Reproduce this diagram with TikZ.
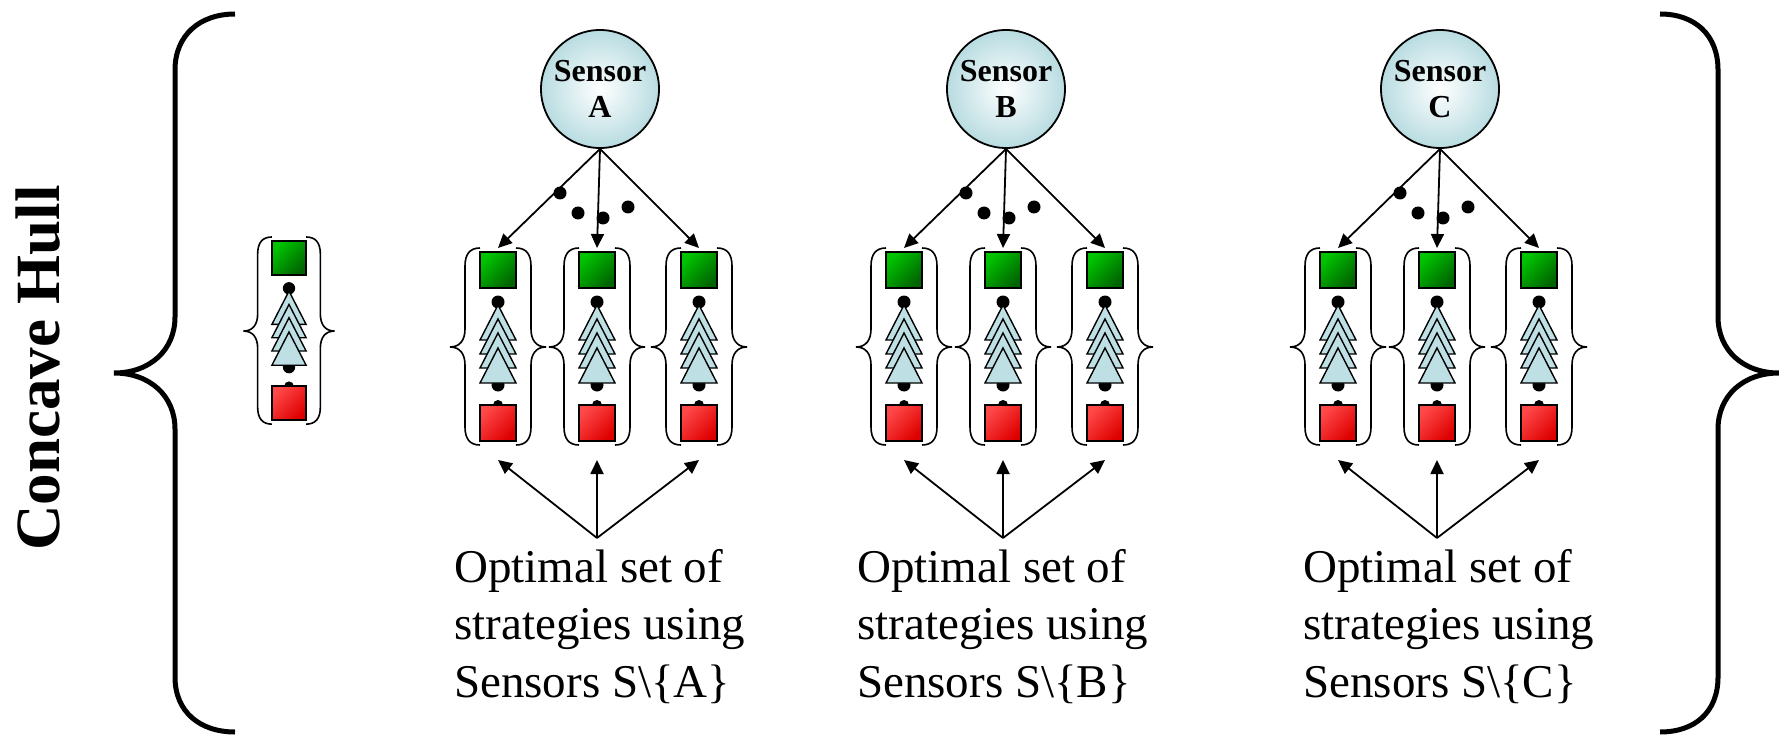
\documentclass[tikz,border=0pt]{standalone}
\usepackage{fontspec}
\setmainfont{Liberation Serif}
\usetikzlibrary{arrows.meta}
\definecolor{sblue}{RGB}{184,220,225}
\definecolor{tblue}{RGB}{190,224,228}
\definecolor{gl}{RGB}{0,196,0}
\definecolor{gd}{RGB}{0,100,0}
\definecolor{rl}{RGB}{255,72,72}
\definecolor{rd}{RGB}{222,0,0}
\tikzset{
  bigbrace/.style={line width=5pt, line cap=butt},
  colbrace/.style={line width=1.6pt},
  sq/.style={draw=black, line width=1.8pt, inner sep=0pt, outer sep=0pt},
  greensq/.style={sq, top color=gl, bottom color=gd, shading angle=45},
  redsq/.style={sq, top color=rl, bottom color=rd, shading angle=45},
  tri/.style={fill=tblue, draw=black, line width=1.4pt, line join=miter},
  bdot/.style={fill=black},
  sensor/.style={circle, draw=black, line width=1.8pt, minimum size=118pt, inner sep=0pt,
    inner color=white, outer color=sblue, align=center,
    font=\bfseries\fontsize{32}{36}\selectfont},
  conn/.style={line width=1.8pt, -{Triangle[length=14pt,width=13pt]}},
  lbl/.style={anchor=base west, align=left, inner sep=0pt, font=\fontsize{47}{57.5}\selectfont},
  hull/.style={rotate=90, anchor=base, inner sep=0pt, font=\bfseries\fontsize{63}{70}\selectfont},
}
% #1 name, #2 x, #3 y of top, #4 scale
\newcommand{\stratcol}[4]{%
  \begin{scope}[shift={(#2,#3)}, scale=#4]
    \coordinate (#1-top) at (0,0);
    \coordinate (#1-bot) at (0,212);
    \draw[colbrace] (-18,0) .. controls (-28,0) and (-33,6) .. (-33,18) -- (-33,81)
      .. controls (-33,92) and (-38,99) .. (-48,99)
      .. controls (-38,99) and (-33,106) .. (-33,117) -- (-33,179)
      .. controls (-33,191) and (-28,197) .. (-18,197);
    \draw[colbrace] (18,0) .. controls (28,0) and (33,6) .. (33,18) -- (33,81)
      .. controls (33,92) and (38,99) .. (48,99)
      .. controls (38,99) and (33,106) .. (33,117) -- (33,179)
      .. controls (33,191) and (28,197) .. (18,197);
    \node[greensq, minimum size=#4*36pt] (#1-g) at (0,22) {};
    \fill[bdot] (0,54) circle (6.5pt);
    \fill[bdot] (0,137) circle (6.5pt);
    \fill[bdot] (0,157) circle (5pt);
    \filldraw[tri] (-18,92) -- (0,57) -- (18,92) -- cycle;
    \filldraw[tri] (-18,106) -- (0,71) -- (18,106) -- cycle;
    \filldraw[tri] (-18,120) -- (0,85) -- (18,120) -- cycle;
    \filldraw[tri] (-18,135) -- (0,100) -- (18,135) -- cycle;
    \node[redsq, minimum size=#4*36pt] (#1-r) at (0,175) {};
  \end{scope}%
}
% #1 letter, #2 centre x, #3 text left x
\newcommand{\sensorgroup}[3]{%
  \node[sensor] (s#1) at (#2,89) {Sensor\\#1};
  \stratcol{#1a}{#2-102}{248}{1}
  \stratcol{#1b}{#2-3}{248}{1}
  \stratcol{#1c}{#2+99}{248}{1}
  \draw[conn] (s#1.south) -- (#1a-top);
  \draw[conn] (s#1.south) -- (#1b-top);
  \draw[conn] (s#1.south) -- (#1c-top);
  \fill[bdot] (#2-40,193) circle (6.5pt);
  \fill[bdot] (#2-22,213) circle (6.5pt);
  \fill[bdot] (#2+3,218) circle (6.5pt);
  \fill[bdot] (#2+28,207) circle (6.5pt);
  \coordinate (src#1) at (#2-3,538);
  \draw[conn] (src#1) -- (#1a-bot);
  \draw[conn] (src#1) -- (#1b-bot);
  \draw[conn] (src#1) -- (#1c-bot);
  \node[lbl] (t#1) at (#3,697) {Optimal set of\\strategies using\\Sensors S\textbackslash\{#1\}};
}
\begin{document}
\begin{tikzpicture}[x=1pt, y=-1pt]
  \fill[white] (0,0) rectangle (1779,735);
  \useasboundingbox (0,0) rectangle (1779,735);
  \node[hull] (hull) at (59,368) {Concave Hull};
  \draw[bigbrace] (235,14) .. controls (200,14) and (175,35) .. (175,70) -- (175,317)
    .. controls (175,350) and (150,373) .. (114,373)
    .. controls (150,373) and (175,396) .. (175,429) -- (175,677)
    .. controls (175,712) and (200,732) .. (235,732);
  \draw[bigbrace] (1660,14) .. controls (1695,14) and (1718,35) .. (1718,70) -- (1718,317)
    .. controls (1718,350) and (1743,373) .. (1779,373)
    .. controls (1743,373) and (1718,396) .. (1718,429) -- (1718,677)
    .. controls (1718,712) and (1695,732) .. (1660,732);
  \stratcol{L}{289}{237}{0.95}
  \sensorgroup{A}{600}{454}
  \sensorgroup{B}{1006}{857}
  \sensorgroup{C}{1440}{1303}
\end{tikzpicture}
\end{document}
